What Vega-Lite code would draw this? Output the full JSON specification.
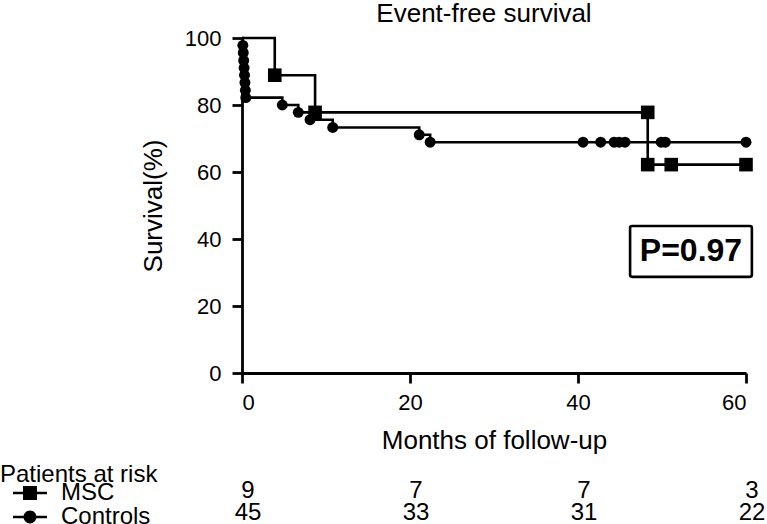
{
  "$schema": "https://vega.github.io/schema/vega-lite/v6.json",
  "width": 504,
  "height": 335,
  "autosize": {"type": "none"},
  "padding": {"left": 242, "top": 38, "right": 21, "bottom": 151},
  "background": "white",
  "config": {
    "font": "Liberation Sans",
    "view": {"stroke": null},
    "axis": {"domainColor": "black", "tickColor": "black", "labelColor": "black", "titleColor": "black", "domainWidth": 2.8, "tickWidth": 2.8, "tickSize": 10, "labelFontSize": 22, "titleFontSize": 26, "titleFontWeight": "normal", "grid": false, "labelFont": "Liberation Sans", "titleFont": "Liberation Sans"}
  },
  "title": {"text": "Event-free survival", "fontSize": 26, "fontWeight": "normal", "font": "Liberation Sans", "color": "black", "anchor": "middle", "offset": 0, "dx": -10},
  "datasets": {
    "curves": [
      {"group": "MSC", "time": 0, "survival": 100},
      {"group": "MSC", "time": 3.9, "survival": 88.9},
      {"group": "MSC", "time": 8.7, "survival": 77.8},
      {"group": "MSC", "time": 48.3, "survival": 62.2},
      {"group": "MSC", "time": 60, "survival": 62.2},
      {"group": "Controls", "time": 0, "survival": 100},
      {"group": "Controls", "time": 0.1, "survival": 97.8},
      {"group": "Controls", "time": 0.15, "survival": 95.6},
      {"group": "Controls", "time": 0.2, "survival": 93.3},
      {"group": "Controls", "time": 0.25, "survival": 91.1},
      {"group": "Controls", "time": 0.3, "survival": 88.9},
      {"group": "Controls", "time": 0.35, "survival": 86.7},
      {"group": "Controls", "time": 0.4, "survival": 84.4},
      {"group": "Controls", "time": 0.45, "survival": 82.2},
      {"group": "Controls", "time": 4.8, "survival": 80.0},
      {"group": "Controls", "time": 6.7, "survival": 77.8},
      {"group": "Controls", "time": 8.1, "survival": 75.6},
      {"group": "Controls", "time": 10.8, "survival": 73.3},
      {"group": "Controls", "time": 21.1, "survival": 71.1},
      {"group": "Controls", "time": 22.4, "survival": 68.9},
      {"group": "Controls", "time": 60, "survival": 68.9}
    ],
    "marks": [
      {"group": "MSC", "time": 3.9, "survival": 88.9},
      {"group": "MSC", "time": 8.7, "survival": 77.8},
      {"group": "MSC", "time": 48.3, "survival": 77.8},
      {"group": "MSC", "time": 48.3, "survival": 62.2},
      {"group": "MSC", "time": 51.1, "survival": 62.2},
      {"group": "MSC", "time": 60, "survival": 62.2},
      {"group": "Controls", "time": 0.1, "survival": 97.8},
      {"group": "Controls", "time": 0.15, "survival": 95.6},
      {"group": "Controls", "time": 0.2, "survival": 93.3},
      {"group": "Controls", "time": 0.25, "survival": 91.1},
      {"group": "Controls", "time": 0.3, "survival": 88.9},
      {"group": "Controls", "time": 0.35, "survival": 86.7},
      {"group": "Controls", "time": 0.4, "survival": 84.4},
      {"group": "Controls", "time": 0.45, "survival": 82.2},
      {"group": "Controls", "time": 4.8, "survival": 80.0},
      {"group": "Controls", "time": 6.7, "survival": 77.8},
      {"group": "Controls", "time": 8.1, "survival": 75.6},
      {"group": "Controls", "time": 10.8, "survival": 73.3},
      {"group": "Controls", "time": 21.1, "survival": 71.1},
      {"group": "Controls", "time": 22.4, "survival": 68.9},
      {"group": "Controls", "time": 40.6, "survival": 68.9},
      {"group": "Controls", "time": 42.7, "survival": 68.9},
      {"group": "Controls", "time": 44.3, "survival": 68.9},
      {"group": "Controls", "time": 44.9, "survival": 68.9},
      {"group": "Controls", "time": 45.6, "survival": 68.9},
      {"group": "Controls", "time": 49.9, "survival": 68.9},
      {"group": "Controls", "time": 50.4, "survival": 68.9},
      {"group": "Controls", "time": 60, "survival": 68.9}
    ],
    "risk": [
      {"group": "MSC", "time": 0, "n": 9},
      {"group": "MSC", "time": 20, "n": 7},
      {"group": "MSC", "time": 40, "n": 7},
      {"group": "MSC", "time": 60, "n": 3},
      {"group": "Controls", "time": 0, "n": 45},
      {"group": "Controls", "time": 20, "n": 33},
      {"group": "Controls", "time": 40, "n": 31},
      {"group": "Controls", "time": 60, "n": 22}
    ],
    "pbox": [
      {"x": 46.2, "x2": 60.7, "y": 28.7, "y2": 43.9, "cx": 53.45, "cy": 36.3, "label": "P=0.97"}
    ]
  },
  "layer": [
    {
      "layer": [
        {
          "data": {"name": "curves"},
          "mark": {"type": "line", "interpolate": "step-after", "color": "black", "strokeWidth": 2.6},
          "encoding": {
            "x": {"field": "time", "type": "quantitative", "scale": {"domain": [0, 60], "nice": false}, "axis": {"values": [0, 20, 40, 60], "title": "Months of follow-up", "labelPadding": 9, "titlePadding": 14}},
            "y": {"field": "survival", "type": "quantitative", "scale": {"domain": [0, 100], "nice": false}, "axis": {"values": [0, 20, 40, 60, 80, 100], "title": "Survival(%)", "labelPadding": 11, "titlePadding": 18}},
            "detail": {"field": "group"}
          }
        },
        {
          "data": {"name": "marks"},
          "transform": [{"filter": "datum.group === 'MSC'"}],
          "mark": {"type": "point", "shape": "square", "filled": true, "color": "black", "opacity": 1, "size": 185},
          "encoding": {
            "x": {"field": "time", "type": "quantitative"},
            "y": {"field": "survival", "type": "quantitative"}
          }
        },
        {
          "data": {"name": "marks"},
          "transform": [{"filter": "datum.group === 'Controls'"}],
          "mark": {"type": "point", "shape": "circle", "filled": true, "color": "black", "opacity": 1, "size": 120},
          "encoding": {
            "x": {"field": "time", "type": "quantitative"},
            "y": {"field": "survival", "type": "quantitative"}
          }
        },
        {
          "data": {"name": "marks"},
          "mark": {"type": "point", "filled": true, "color": "black", "opacity": 0, "size": 1},
          "encoding": {
            "x": {"field": "time", "type": "quantitative"},
            "y": {"field": "survival", "type": "quantitative"},
            "shape": {
              "field": "group", "type": "nominal",
              "scale": {"domain": ["MSC", "Controls"], "range": ["M-1,-0.075H1V0.075H-1ZM-0.41,-0.41H0.41V0.41H-0.41Z", "M-1,-0.075H1V0.075H-1ZM0.38,0A0.38,0.38 0 1,1 -0.38,0A0.38,0.38 0 1,1 0.38,0Z"]},
              "legend": {
                "orient": "none", "legendX": -242, "legendY": 425,
                "title": "Patients at risk", "titleFontSize": 24, "titleFontWeight": "normal", "titleColor": "black", "titleFont": "Liberation Sans", "titlePadding": -5,
                "labelFontSize": 24, "labelColor": "black", "labelFont": "Liberation Sans", "labelOffset": 13,
                "symbolOffset": 12, "clipHeight": 22, "rowPadding": 0, "padding": 0,
                "symbolSize": 1156, "symbolOpacity": 1,
                "symbolFillColor": "black"
              }
            }
          }
        },
        {
          "data": {"name": "pbox"},
          "mark": {"type": "rect", "fill": "white", "stroke": "black", "strokeWidth": 2.6, "cornerRadius": 2},
          "encoding": {
            "x": {"field": "x", "type": "quantitative"},
            "x2": {"field": "x2"},
            "y": {"field": "y", "type": "quantitative"},
            "y2": {"field": "y2"}
          }
        },
        {
          "data": {"name": "pbox"},
          "mark": {"type": "text", "fontSize": 32, "fontWeight": "bold", "color": "black", "align": "center", "baseline": "middle"},
          "encoding": {
            "x": {"field": "cx", "type": "quantitative"},
            "y": {"field": "cy", "type": "quantitative"},
            "text": {"field": "label"}
          }
        }
      ]
    },
    {
      "data": {"name": "risk"},
      "mark": {"type": "text", "fontSize": 24, "color": "black", "dx": 6, "baseline": "middle", "align": "center"},
      "encoding": {
        "x": {"field": "time", "type": "quantitative"},
        "y": {"field": "group", "type": "nominal", "scale": {"domain": ["MSC", "Controls"], "range": [453, 475], "padding": 0}, "axis": null},
        "text": {"field": "n"}
      }
    }
  ],
  "resolve": {"scale": {"y": "independent"}}
}
